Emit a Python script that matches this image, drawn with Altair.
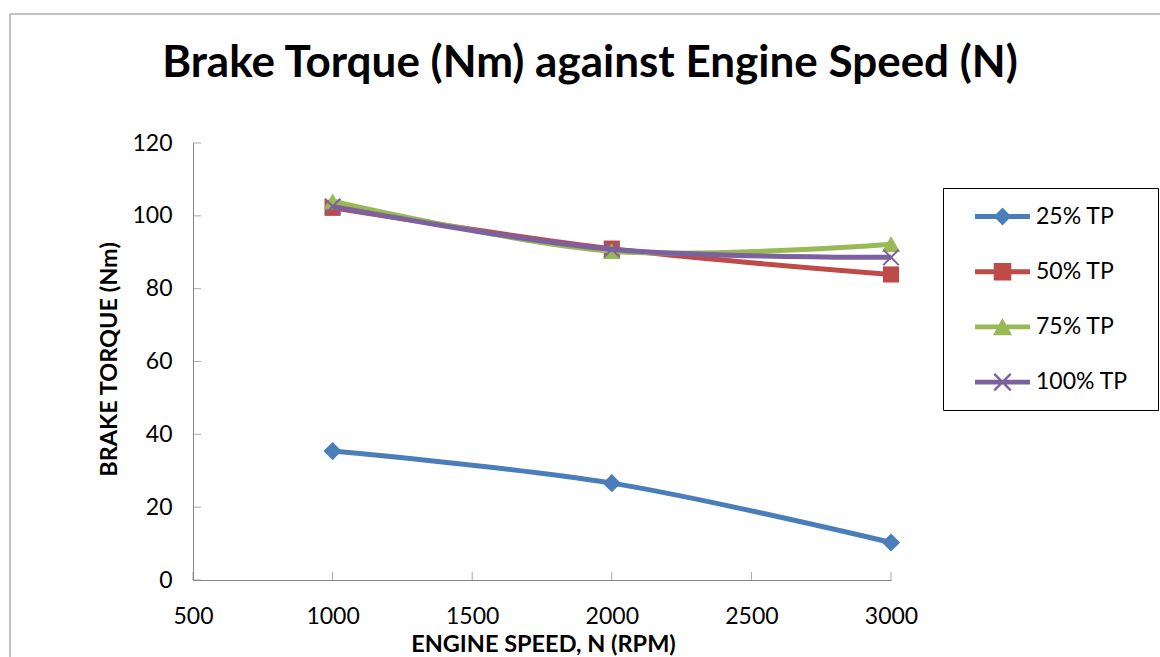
import altair as alt
import pandas as pd

# ---- data ----
speed = [1000, 2000, 3000]
series_names = ["25% TP", "50% TP", "75% TP", "100% TP"]
tp25 = [35.4, 26.6, 10.3]
tp50 = [102.2, 91.0, 83.9]
tp75 = [104.0, 90.3, 92.2]
tp100 = [102.6, 90.8, 88.6]
x_ticks = [500, 1000, 1500, 2000, 2500, 3000]
y_ticks = [0, 20, 40, 60, 80, 100, 120]

# ---- styles ----
line_colors = ["#4A7EBB", "#BE4B48", "#98B954", "#7D60A0"]
axis_gray = "#868686"
FONT = "Lato"

rows = []
for name, vals in zip(series_names, [tp25, tp50, tp75, tp100]):
    for s, v in zip(speed, vals):
        rows.append({"speed": s, "torque": v, "series": name})
df = pd.DataFrame(rows)

x_scale = alt.Scale(domain=[500, 3000], nice=False, zero=False)
y_scale = alt.Scale(domain=[0, 120], nice=False)
color_scale = alt.Scale(domain=series_names, range=line_colors)

# legend symbols: a line segment with the series marker on it (unit coords);
# the trailing zero-length moves only widen the legend entry's box
bar = "M-1,-0.09L1,-0.09L1,0.09L-1,0.09Z"
diamond = "M0,-0.33L0.32,0L0,0.33L-0.32,0Z"
square = "M-0.32,-0.32L0.32,-0.32L0.32,0.32L-0.32,0.32Z"
triangle = "M0,-0.32L0.35,0.3L-0.35,0.3Z"
xmark = ("M-0.27,-0.33L0.33,0.27L0.27,0.33L-0.33,-0.27Z"
         "M0.27,-0.33L0.33,-0.27L-0.27,0.33L-0.33,0.27Z")
extent = "M5.6,0.95L5.6,0.95"
legend_paths = [bar + m + extent for m in (diamond, square, triangle, xmark)]

x_axis = alt.Axis(
    values=x_ticks, format="d", title="ENGINE SPEED, N (RPM)",
    ticks=False, tickSize=0, labelPadding=25, grid=False, labelFlush=False,
    titleX=350, titleY=71, titleBaseline="alphabetic", titleAlign="center",
)
y_axis = alt.Axis(
    values=y_ticks, format="d", title="BRAKE TORQUE (Nm)",
    ticks=False, tickSize=0, labelPadding=21, grid=False, labelFlush=False,
    titleX=-77, titleY=216, titleBaseline="alphabetic", titleAlign="center",
    titleAngle=270,
)

frame = alt.Chart(pd.DataFrame({"k": [1]})).mark_rect(
    fill="white", fillOpacity=0, stroke=axis_gray, strokeWidth=1
).encode(x=alt.value(-183), x2=alt.value(1200), y=alt.value(-129), y2=alt.value(700))

xt = alt.Chart(pd.DataFrame({"v": x_ticks, "z": [0] * len(x_ticks)})).mark_tick(
    orient="vertical", size=8, thickness=1, color=axis_gray, yOffset=-4
).encode(
    x=alt.X("v:Q", scale=x_scale, axis=x_axis),
    y=alt.Y("z:Q", scale=y_scale, axis=y_axis),
)

yt = alt.Chart(pd.DataFrame({"v": y_ticks, "z": [500] * len(y_ticks)})).mark_tick(
    orient="horizontal", size=8, thickness=1, color=axis_gray, xOffset=4
).encode(
    y=alt.Y("v:Q", scale=y_scale, axis=y_axis),
    x=alt.X("z:Q", scale=x_scale, axis=x_axis),
)

base_x = alt.X("speed:Q", scale=x_scale, axis=x_axis)
base_y = alt.Y("torque:Q", scale=y_scale, axis=y_axis)
col = alt.Color("series:N", scale=color_scale, legend=None)

marker_defs = [
    dict(shape="diamond", filled=True, size=330),
    dict(shape="square", filled=True, size=260),
    dict(shape="triangle-up", filled=True, size=330),
    dict(shape="M-1,-1L1,1M1,-1L-1,1", filled=False, size=240, strokeWidth=2),
]

series_layers = []
for name, mdef in zip(series_names, marker_defs):
    sub = alt.Chart(df).transform_filter(alt.datum.series == name)
    series_layers.append(
        sub.mark_line(interpolate="catmull-rom", strokeWidth=5).encode(
            x=base_x, y=base_y, color=col)
    )
    series_layers.append(
        sub.mark_point(opacity=1, **mdef).encode(x=base_x, y=base_y, color=col)
    )

leg = alt.Legend(
    title=None, orient="none", legendX=750, legendY=45,
    strokeColor="black", fillColor="white", padding=1,
    symbolSize=3025, symbolStrokeWidth=0, symbolOffset=31,
    labelOffset=6, rowPadding=1.2, labelFont=FONT, labelFontSize=23,
    labelColor="black", labelLimit=400,
)
# layer that only feeds the legend; its marks sit outside the visible page
legend_layer = alt.Chart(pd.DataFrame({"series": series_names})).mark_point(
    filled=True, size=3025, opacity=1
).encode(
    x=alt.value(1500),
    y=alt.value(200),
    color=alt.Color("series:N", scale=color_scale, legend=leg),
    shape=alt.Shape("series:N", scale=alt.Scale(domain=series_names, range=legend_paths), legend=leg),
)

chart = alt.layer(frame, xt, yt, legend_layer, *series_layers).properties(
    width=698, height=437,
    autosize=alt.AutoSizeParams(type="none"),
    padding={"left": 193, "top": 143, "right": 269, "bottom": 77},
    title=alt.Title(
        "Brake Torque (Nm) against Engine Speed (N)", font=FONT, fontSize=44,
        fontWeight="bold", color="black", anchor="middle", frame="group",
        dx=48, offset=-107, baseline="alphabetic",
    ),
    background="white",
).configure_view(stroke=None).configure_axis(
    domainColor=axis_gray, domainWidth=1,
    labelFont=FONT, labelFontSize=23, labelColor="black",
    titleFont=FONT, titleFontSize=23.5, titleFontWeight="bold", titleColor="black",
)

chart.save("out.html", embed_options={"renderer": "svg", "actions": False})
